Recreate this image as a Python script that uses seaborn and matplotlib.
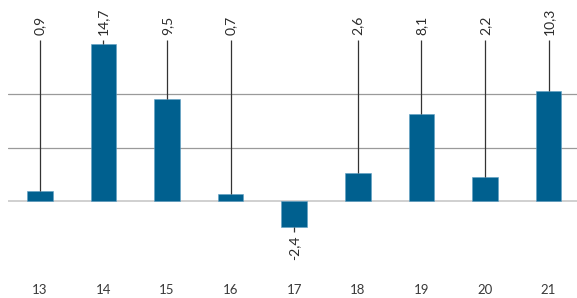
import matplotlib
matplotlib.use("Agg")
import matplotlib.pyplot as plt
import seaborn as sns
import pandas as pd

categories = ["13", "14", "15", "16", "17", "18", "19", "20", "21"]
values = [0.9, 14.7, 9.5, 0.7, -2.4, 2.6, 8.1, 2.2, 10.3]
labels = ["0,9", "14,7", "9,5", "0,7", "-2,4", "2,6", "8,1", "2,2", "10,3"]

sns.set_theme(style="white")
plt.rcParams["font.family"] = ["Lato", "DejaVu Sans"]

W, H = 577, 298
fig = plt.figure(figsize=(W / 100, H / 100), dpi=100)
ax = fig.add_axes([8 / W, (H - 270) / H, (W - 8) / W, 270 / H])

df = pd.DataFrame({"cat": categories, "val": values})
sns.barplot(data=df, x="cat", y="val", color="#00608f", saturation=1,
            width=0.4, ax=ax, zorder=3, edgecolor="#5f9fc4", linewidth=0.4)

px = 10.7  # pixels per unit
ax.set_ylim(-(270 - 201) / px, 201 / px)
ax.set_xlim(-0.5, -0.5 + (W - 8) / 63.6)

ax.set_yticks([5, 10])
ax.yaxis.grid(True, color="#9a9a9a", linewidth=0.9, zorder=0)
ax.set_yticklabels([])
ax.tick_params(axis="y", length=0)
ax.axhline(0, color="#c8c8c8", linewidth=1.2, zorder=1)

top_line = (201 - 40) / px
label_y = (201 - 35) / px
for i, (v, lab) in enumerate(zip(values, labels)):
    if v >= 0:
        ax.vlines(i, v, top_line, color="#333333", linewidth=0.9, zorder=4)
        ax.text(i, label_y, lab, rotation=90, ha="center", va="bottom",
                fontsize=10, color="#2a2a2a")
    else:
        ax.vlines(i, v, v - 0.5, color="#333333", linewidth=0.9, zorder=4)
        ax.text(i, v - 0.8, lab, rotation=90, ha="center", va="top",
                fontsize=10, color="#2a2a2a")

ax.set_xlabel("")
ax.set_ylabel("")
ax.tick_params(axis="x", length=0, pad=10, labelsize=9.5, labelcolor="#3a3a3a")
for s in ax.spines.values():
    s.set_visible(False)

fig.savefig("out.png", dpi=100)
